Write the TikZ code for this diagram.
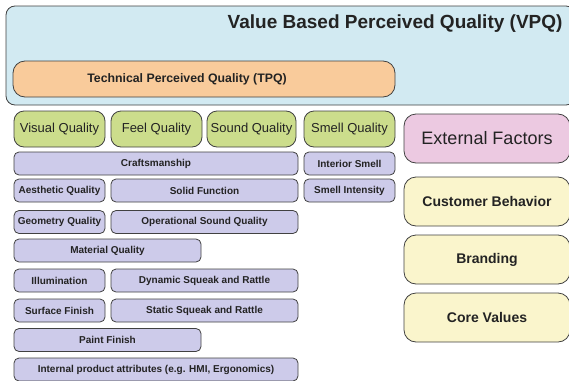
\documentclass[tikz,border=0pt]{standalone}
\usepackage{fontspec}
\setmainfont{Liberation Sans}
\usepackage{tikz}
\definecolor{vpqblue}{RGB}{210,234,242}
\definecolor{tpqorange}{RGB}{249,203,155}
\definecolor{qgreen}{RGB}{204,221,140}
\definecolor{attrpurple}{RGB}{205,203,234}
\definecolor{extpink}{RGB}{236,201,225}
\definecolor{extyellow}{RGB}{250,245,204}
\definecolor{edgegray}{RGB}{65,65,65}
\definecolor{textgray}{RGB}{35,35,35}

\tikzset{
    qbox/.style={draw=edgegray, line width=0.8pt, inner sep=0pt, text=textgray, align=center},
    boxsize/.style 2 args={minimum width=#1, minimum height=#2},
    quality/.style={qbox, fill=qgreen, rounded corners=10pt, font=\fontsize{13}{15}\selectfont},
    attr/.style={qbox, fill=attrpurple, rounded corners=5pt, font=\bfseries\fontsize{10}{12}\selectfont},
    factor/.style={qbox, fill=extyellow, rounded corners=12pt, font=\bfseries\fontsize{14}{16}\selectfont},
}

\begin{document}
\begin{tikzpicture}[x=1pt, y=-1pt]
    \useasboundingbox (0,0) rectangle (569,380);

    % Value based perceived quality
    \node[qbox, fill=vpqblue, rounded corners=9pt, boxsize={569pt}{99pt}] (vpq) at (290.5,55.5) {};
    \node[anchor=east, text=textgray, font=\bfseries\fontsize{19}{22}\selectfont] (vpqtitle) at (566,23.5) {Value Based Perceived Quality (VPQ)};

    % Technical perceived quality
    \node[qbox, fill=tpqorange, rounded corners=12pt, boxsize={382pt}{36pt}] (tpq) at (204,79) {};
    \node[text=textgray, font=\bfseries\fontsize{12.3}{14}\selectfont] (tpqtitle) at (187,79) {Technical Perceived Quality (TPQ)};

    % Quality domains
    \node[quality, boxsize={91pt}{36pt}] (visual) at (59.5,129) {Visual Quality};
    \node[quality, boxsize={91pt}{36pt}] (feel) at (156.5,129) {Feel Quality};
    \node[quality, boxsize={89pt}{36pt}] (sound) at (251.5,129) {Sound Quality};
    \node[quality, boxsize={91pt}{36pt}] (smell) at (349.5,129) {Smell Quality};

    % Attributes
    \node[attr, boxsize={284pt}{23pt}] (craft) at (156,163.5) {Craftsmanship};
    \node[attr, boxsize={91pt}{23pt}] (interior) at (349.5,163.5) {Interior Smell};
    \node[attr, boxsize={91pt}{23pt}] (aesthetic) at (59.5,190.5) {Aesthetic Quality};
    \node[attr, boxsize={187pt}{23pt}] (solid) at (204.5,190.5) {Solid Function};
    \node[attr, boxsize={91pt}{23pt}] (intensity) at (349.5,190.5) {Smell Intensity};
    \node[attr, boxsize={91pt}{23pt}] (geometry) at (59.5,222) {Geometry Quality};
    \node[attr, boxsize={187pt}{23pt}] (operational) at (204.5,222) {Operational Sound Quality};
    \node[attr, boxsize={187pt}{23pt}] (material) at (107.5,250.5) {Material Quality};
    \node[attr, boxsize={91pt}{23pt}] (illumination) at (59.5,280.5) {Illumination};
    \node[attr, boxsize={187pt}{23pt}] (dynamic) at (204.5,280.5) {Dynamic Squeak and Rattle};
    \node[attr, boxsize={91pt}{23pt}] (surface) at (59.5,310.5) {Surface Finish};
    \node[attr, boxsize={187pt}{23pt}] (static) at (204.5,310.5) {Static Squeak and Rattle};
    \node[attr, boxsize={187pt}{23pt}] (paint) at (107.5,340) {Paint Finish};
    \node[attr, boxsize={284pt}{23pt}] (internal) at (156,369.5) {Internal product attributes (e.g. HMI, Ergonomics)};

    % External factors
    \node[qbox, fill=extpink, rounded corners=12pt, boxsize={166pt}{49pt}, font=\fontsize{18}{21}\selectfont] (external) at (487,138.5) {External Factors};
    \node[factor, boxsize={166pt}{49pt}] (customer) at (487,201.5) {Customer Behavior};
    \node[factor, boxsize={166pt}{49pt}] (branding) at (487,259.5) {Branding};
    \node[factor, boxsize={166pt}{49pt}] (corevalues) at (487,317.5) {Core Values};
\end{tikzpicture}
\end{document}
